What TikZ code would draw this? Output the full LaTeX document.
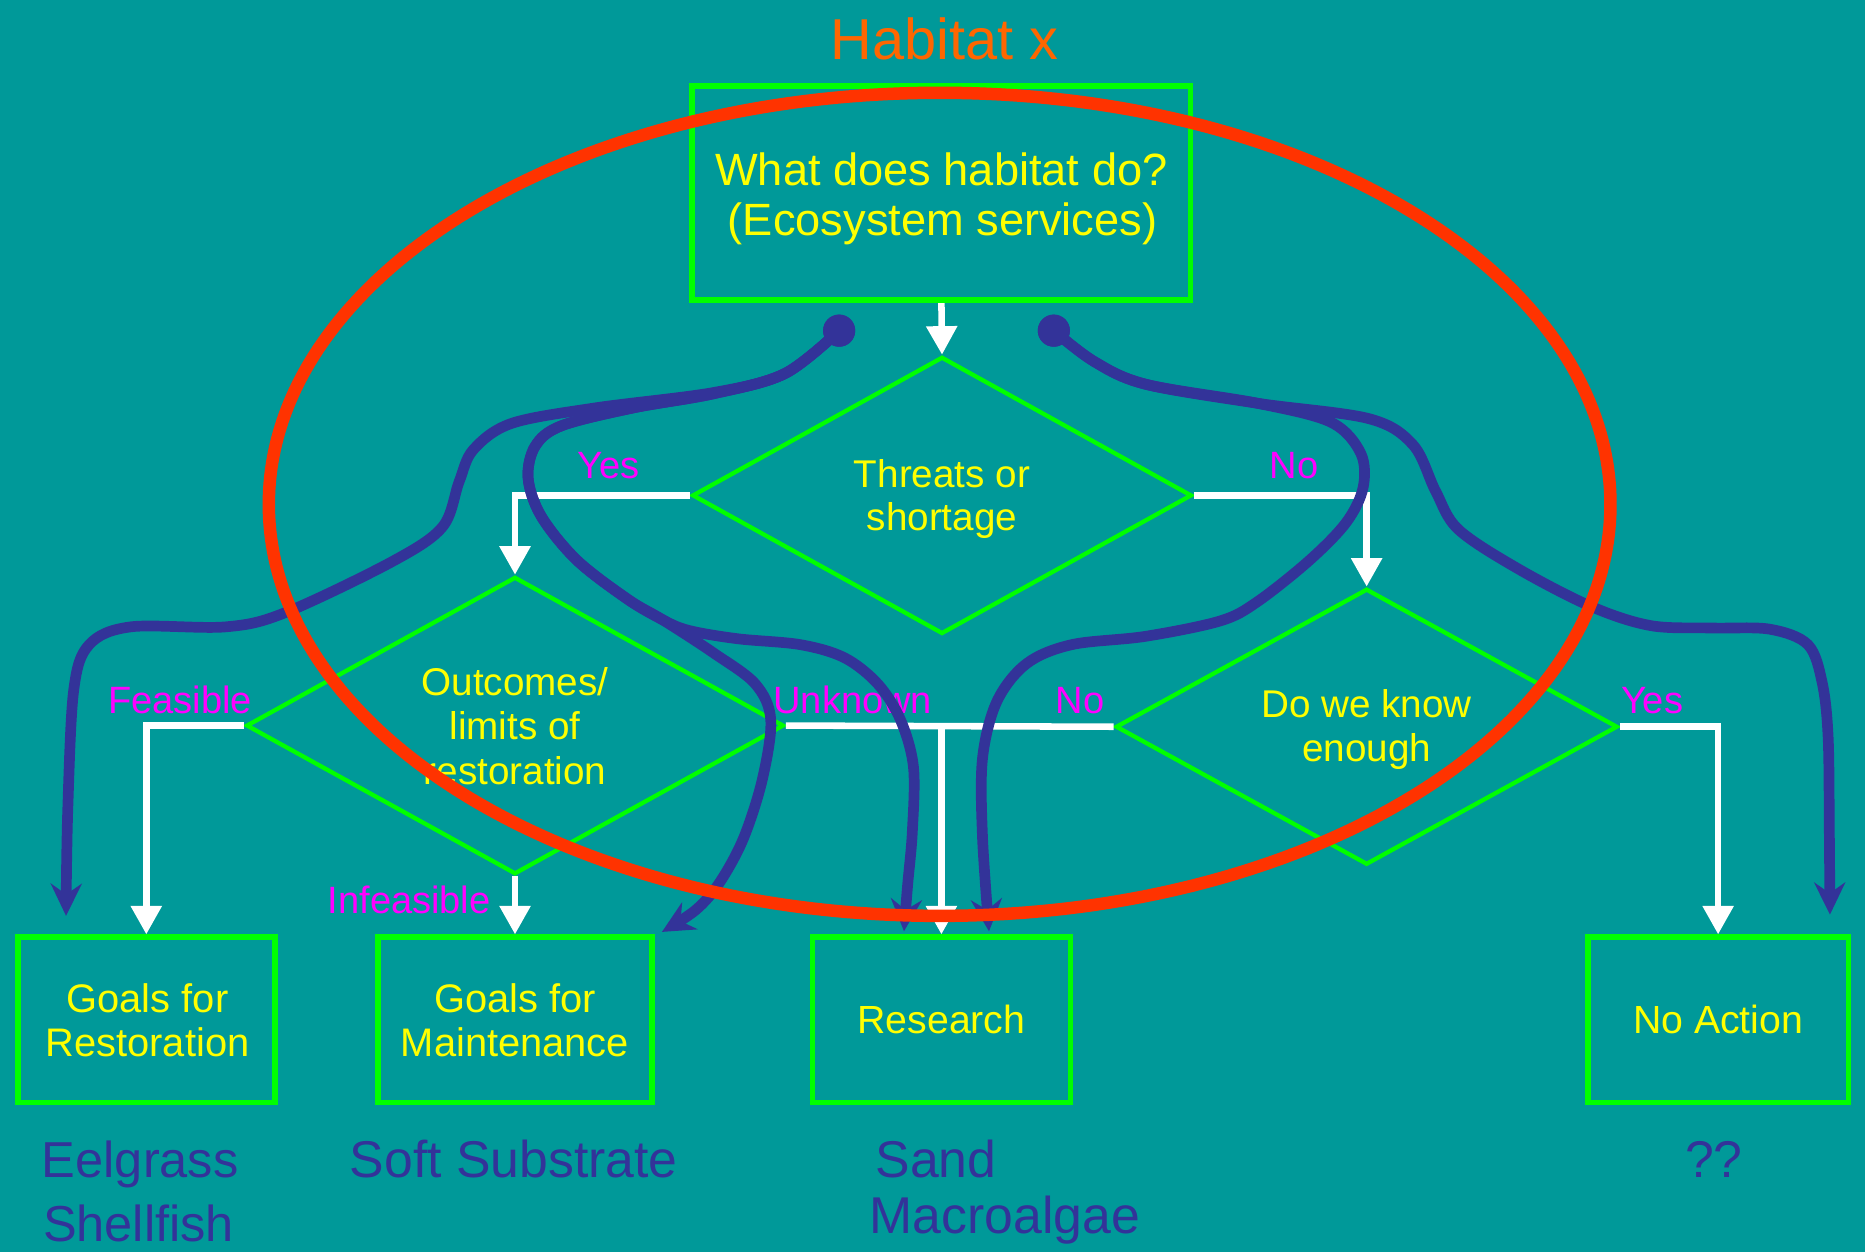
\documentclass[tikz,border=0pt]{standalone}
\usepackage{fontspec}
\setmainfont{Liberation Sans}
\usetikzlibrary{shapes.geometric,arrows.meta}
\definecolor{bgteal}{HTML}{009999}
\definecolor{gr}{HTML}{00FF00}
\definecolor{yl}{HTML}{FFFF00}
\definecolor{mg}{HTML}{FF00FF}
\definecolor{orng}{HTML}{FF6600}
\definecolor{rd}{HTML}{FF3300}
\definecolor{bl}{HTML}{333399}
\begin{document}
\begin{tikzpicture}[x=1pt,y=-1pt,
  gbox/.style={draw=gr, line width=4.8pt, rectangle, inner sep=0pt},
  gdia/.style={draw=gr, line width=3.6pt, diamond, aspect=2, inner sep=0pt},
  ytxt/.style={text=yl, inner sep=0pt, anchor=base},
  wline/.style={draw=white, line width=5.5pt, -{Triangle[width=25pt,length=24pt]}},
  wplain/.style={draw=white, line width=5.5pt},
  lbl/.style={text=mg, font=\fontsize{32}{36}\selectfont, inner sep=0pt, anchor=base},
  bcurve/.style={draw=bl, line width=9pt, line cap=round, line join=round, -{Stealth[length=27pt,width=26pt,inset=9pt]}},
  bdot/.style={circle, fill=bl, minimum size=27pt, inner sep=0pt},
  btxt/.style={text=bl, font=\fontsize{43.5}{50}\selectfont, inner sep=0pt},
]
\fill[bgteal] (0,0) rectangle (1568,1053);
\useasboundingbox (0,0) rectangle (1568,1053);

% title
\node[text=orng, font=\fontsize{48.5}{52}\selectfont, inner sep=0pt, anchor=base] (title) at (794,50.4) {Habitat x};

% shapes
\node[gbox, minimum width=419pt, minimum height=180pt] (top) at (791.5,162.5) {};
\node[gdia, minimum width=420pt, minimum height=233pt] (d1) at (792,416.5) {};
\node[gdia, minimum width=452pt, minimum height=250pt] (d2) at (433,610) {};
\node[gdia, minimum width=422pt, minimum height=232pt] (d3) at (1149,611) {};
\node[gbox, minimum width=216pt, minimum height=139pt] (rest) at (123,857.5) {};
\node[gbox, minimum width=230pt, minimum height=139pt] (maint) at (433,857.5) {};
\node[gbox, minimum width=217pt, minimum height=139pt, text=yl, font=\fontsize{33}{37}\selectfont] (res) at (791.5,857.5) {Research};
\node[gbox, minimum width=219pt, minimum height=139pt, text=yl, font=\fontsize{33}{37}\selectfont] (noact) at (1444.5,857.5) {No Action};

% texts inside shapes
\begin{scope}[font=\fontsize{38}{42}\selectfont]
\node[ytxt] (topt1) at (791.5,156.1) {What does habitat do?};
\node[ytxt] (topt2) at (792.5,197.6) {(Ecosystem services)};
\end{scope}
\begin{scope}[font=\fontsize{32.5}{37}\selectfont]
\node[ytxt] (d1t1) at (792,409.9) {Threats or};
\node[ytxt] (d1t2) at (792,446) {shortage};
\node[ytxt] (d2t1) at (433,584.9) {Outcomes/};
\node[ytxt] (d2t2) at (433,621.9) {limits of};
\node[ytxt] (d2t3) at (433,659.5) {restoration};
\node[ytxt] (d3t1) at (1149,602.9) {Do we know};
\node[ytxt] (d3t2) at (1149,640) {enough};
\end{scope}
\begin{scope}[font=\fontsize{33.5}{37}\selectfont]
\node[ytxt] (restt1) at (124,851.1) {Goals for};
\node[ytxt] (restt2) at (124,888.4) {Restoration};
\node[ytxt] (maintt1) at (433,851.1) {Goals for};
\node[ytxt] (maintt2) at (433,888.4) {Maintenance};
\end{scope}

% white flow connectors
\draw[wline] (top.south) -- (d1.north);
\draw[wline] (d1.west) -| (d2.north);
\draw[wline] (d1.east) -| (d3.north);
\draw[wline] (d2.west) -| (rest.north);
\draw[wline] (d2.south) -- (maint.north);
\draw[wplain] (d2.east) -- (d3.west);
\coordinate (jn) at (res.north |- d2.east);
\draw[wline] (jn) -- (res.north);
\draw[wline] (d3.east) -| (noact.north);

% branch labels
\node[lbl] (lyes1) at (511.5,402.5) {Yes};
\node[lbl] (lno1) at (1088,402) {No};
\node[lbl] (lfeas) at (151.5,599.7) {Feasible};
\node[lbl] (linf) at (344,767.9) {Infeasible};
\node[lbl] (lunk) at (717,599.7) {Unknown};
\node[lbl] (lno2) at (908,599.7) {No};
\node[lbl] (lyes2) at (1389,599.7) {Yes};

% blue dots
\node[bdot] (dl) at (705.5,278) {};
\node[bdot] (dr) at (886,278) {};
\coordinate (tA) at (55.5,770);
\coordinate (tB1) at (556.5,783.5);
\coordinate (tB2) at (760,783);
\coordinate (tC) at (1538.5,769);
\coordinate (tD) at (831.5,783);

% blue curves
\draw[bcurve] plot[smooth, tension=0.55] coordinates {(dl.center) (660,314) (600,330) (500,343) (430,356) (398,378) (386,405) (372,443) (330,472) (240,515) (190,527) (110,527) (75,542) (62,580) (57,680) (tA)};
\draw[bcurve] plot[smooth, tension=0.55] coordinates {(dl.center) (660,314) (600,331) (532,343) (472,358) (450,375) (444,402) (455,434) (485,471) (528,504) (557,521) (600,549) (635,575) (648,605) (641,655) (625,705) (605,742) (585,765) (tB1)};
\draw[bcurve] plot[smooth, tension=0.55] coordinates {(dl.center) (660,314) (600,331) (532,343) (472,358) (450,375) (444,402) (455,434) (485,471) (528,504) (557,521) (579,530) (620,537) (673,542) (710,553) (738,575) (757,605) (768,645) (767,700) (763,745) (tB2)};
\draw[bcurve] plot[smooth, tension=0.55] coordinates {(dr.center) (920,304) (963,323) (1057,339) (1151,352) (1188,374) (1207,413) (1226,445) (1276,478) (1338,510) (1388,526) (1440,528) (1488,529) (1520,542) (1532,574) (1537,620) (1538,700) (tC)};
\draw[bcurve] plot[smooth, tension=0.55] coordinates {(dr.center) (920,304) (963,323) (1057,339) (1119,355) (1144,381) (1146,410) (1132,439) (1101,471) (1057,506) (1026,522) (963,535) (901,542) (863,558) (838,590) (826,638) (826,703) (tD)};
\node[bdot] at (dl) {};
\node[bdot] at (dr) {};

% bottom habitat names
\node[btxt, anchor=base west, font=\fontsize{42.5}{50}\selectfont] (eel) at (35,990) {Eelgrass};
\node[btxt, anchor=base west, font=\fontsize{42.5}{50}\selectfont] (shell) at (36,1043.5) {Shellfish};
\node[btxt, anchor=base] (soft) at (432,990) {Soft Substrate};
\node[btxt, anchor=base west] (sand) at (736,990) {Sand};
\node[btxt, anchor=base west] (macro) at (731,1037) {Macroalgae};
\node[btxt, anchor=base] (qq) at (1441,990) {??};

% red ring
\draw[rd, line width=10.5pt] (790,424) ellipse [x radius=564pt, y radius=346pt];
\end{tikzpicture}
\end{document}
